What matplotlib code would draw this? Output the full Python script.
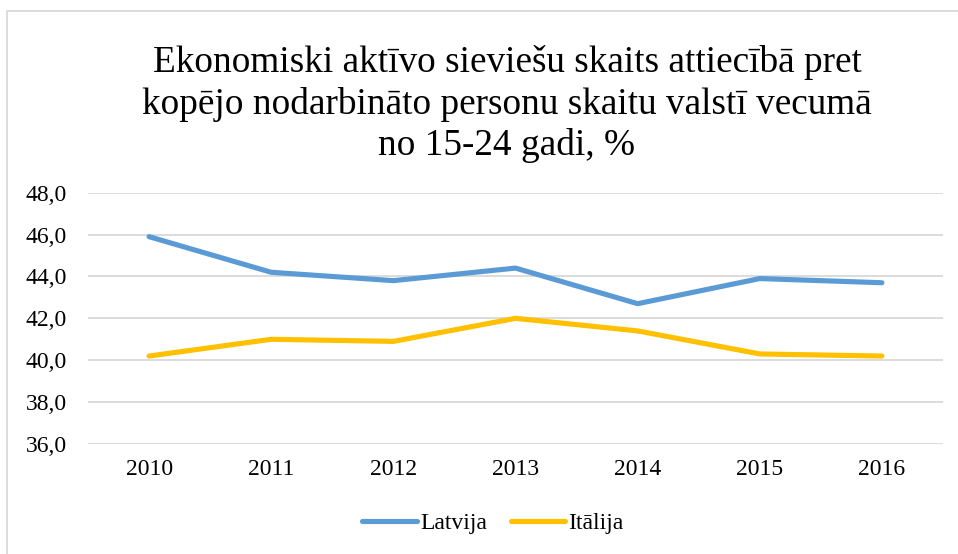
import matplotlib
matplotlib.use('Agg')
import matplotlib.pyplot as plt
from matplotlib.patches import Rectangle

# dati
years = ['2010', '2011', '2012', '2013', '2014', '2015', '2016']
latvija = [45.9, 44.2, 43.8, 44.4, 42.7, 43.9, 43.7]
italija = [40.2, 41.0, 40.9, 42.0, 41.4, 40.3, 40.2]
y_ticks = [36, 38, 40, 42, 44, 46, 48]

plt.rcParams['font.family'] = ['Liberation Serif', 'DejaVu Serif']

fig = plt.figure(figsize=(9.58, 5.54), dpi=100)
ax = fig.add_axes([88/958, 1-444/554, (943-88)/958, (444-192.7)/554])

x = range(len(years))
ax.plot(x, latvija, color='#5B9BD5', linewidth=3.7, solid_capstyle='round', label='Latvija')
ax.plot(x, italija, color='#FFC000', linewidth=3.7, solid_capstyle='round', label='Itālija')

ax.set_xlim(-0.5, len(years) - 0.5)
ax.set_ylim(36, 48)
ax.set_yticks(y_ticks)
ax.set_yticklabels([('%.1f' % v).replace('.', ',') for v in y_ticks])
ax.set_xticks(list(x))
ax.set_xticklabels(years)
ax.grid(axis='y', color='#d9d9d9', linewidth=1.3)
ax.set_axisbelow(True)
for s in ax.spines.values():
    s.set_visible(False)
ax.tick_params(axis='both', length=0, labelsize=17, colors='#000000')
ax.tick_params(axis='y', pad=15)
ax.tick_params(axis='x', pad=11)

fig.text(507/958, 1-104/554,
         'Ekonomiski aktīvo sieviešu skaits attiecībā pret\n'
         'kopējo nodarbināto personu skaitu valstī vecumā\n'
         'no 15-24 gadi, %',
         ha='center', va='center', fontsize=26.8, linespacing=1.24)

fig.legend(loc='center', bbox_to_anchor=(493/958, 1-523/554), ncol=2, frameon=False,
           fontsize=17, handlelength=2.3, handletextpad=0.15, columnspacing=1.0)

# rāmis ap diagrammu
fig.patches.append(Rectangle((7/958, -0.05), 1.2, 1.05 - 11/554,
                             transform=fig.transFigure, fill=False,
                             edgecolor='#d9d9d9', linewidth=1.3))

fig.savefig('out.png', dpi=100)
